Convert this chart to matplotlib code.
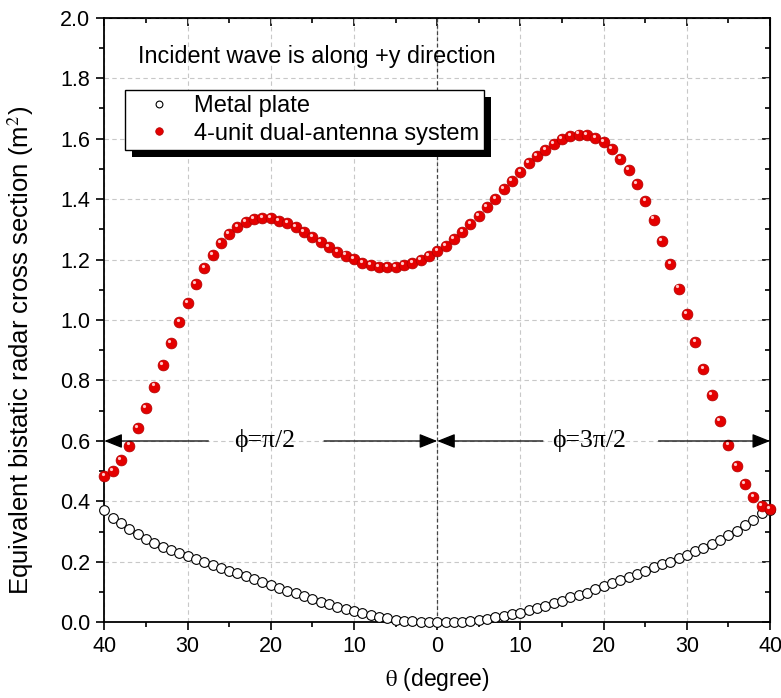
import numpy as np
import matplotlib
matplotlib.use('Agg')
import matplotlib.pyplot as plt
import matplotlib.transforms as mtransforms
from matplotlib.patches import Rectangle

plt.rcParams['font.family'] = ['Liberation Sans', 'DejaVu Sans']
plt.rcParams['mathtext.fontset'] = 'stix'

# scattering angle, degree (left half is phi=pi/2, right half phi=3pi/2)
theta = np.arange(-40, 41)

metal_plate = [
    0.372, 0.347, 0.328, 0.309, 0.293, 0.277, 0.264, 0.251, 0.240, 0.229,
    0.220, 0.209, 0.200, 0.190, 0.180, 0.171, 0.163, 0.154, 0.144, 0.134,
    0.124, 0.115, 0.105, 0.096, 0.088, 0.078, 0.069, 0.061, 0.052, 0.045,
    0.038, 0.030, 0.024, 0.018, 0.014, 0.009, 0.006, 0.004, 0.002, 0.001,
    0.000,
    0.000, 0.001, 0.003, 0.005, 0.008, 0.012, 0.017, 0.021, 0.027, 0.032,
    0.041, 0.047, 0.056, 0.063, 0.072, 0.083, 0.090, 0.099, 0.110, 0.121,
    0.129, 0.140, 0.149, 0.160, 0.171, 0.182, 0.192, 0.201, 0.212, 0.223,
    0.236, 0.246, 0.260, 0.273, 0.289, 0.304, 0.322, 0.339, 0.361, 0.372,
]

dual_antenna = [
    0.484, 0.502, 0.537, 0.585, 0.644, 0.708, 0.780, 0.851, 0.923, 0.992,
    1.057, 1.118, 1.171, 1.215, 1.254, 1.284, 1.308, 1.325, 1.334, 1.338,
    1.336, 1.328, 1.320, 1.306, 1.292, 1.275, 1.259, 1.242, 1.226, 1.213,
    1.201, 1.189, 1.182, 1.176, 1.175, 1.176, 1.181, 1.187, 1.198, 1.212,
    1.229,
    1.246, 1.269, 1.292, 1.317, 1.344, 1.373, 1.401, 1.432, 1.460, 1.489,
    1.518, 1.542, 1.562, 1.582, 1.597, 1.608, 1.613, 1.612, 1.603, 1.587,
    1.564, 1.533, 1.496, 1.449, 1.394, 1.332, 1.262, 1.185, 1.104, 1.019,
    0.928, 0.839, 0.751, 0.667, 0.587, 0.517, 0.459, 0.414, 0.386, 0.375,
]

xticks = [-40, -30, -20, -10, 0, 10, 20, 30, 40]
xticklabels = ['40', '30', '20', '10', '0', '10', '20', '30', '40']
yticks = [0.0, 0.2, 0.4, 0.6, 0.8, 1.0, 1.2, 1.4, 1.6, 1.8, 2.0]

fig = plt.figure(figsize=(7.81, 6.98), dpi=100)
ax = fig.add_axes([0.1336, 0.1082, 0.8524, 0.8667])

ax.plot(theta, metal_plate, 'o', ls='none', mfc='white', mec='black', mew=0.8,
        ms=7, label='Metal plate', zorder=3, clip_on=False)
ax.plot(theta, dual_antenna, 'o', ls='none', mfc='#e40000', mec='#b00000', mew=0.5,
        ms=7.8, label='4-unit dual-antenna system', zorder=4, clip_on=False)
# small highlight to give the balls a shiny look
hl = mtransforms.offset_copy(ax.transData, fig=fig, x=-1.2, y=1.5, units='points')
ax.plot(theta, dual_antenna, 'o', ls='none', mfc='#ffc8c8', mec='none', ms=2.3,
        transform=hl, zorder=5, clip_on=False)

ax.set_xlim(-40, 40)
ax.set_ylim(0, 2.0)
ax.set_xticks(xticks)
ax.set_xticklabels(xticklabels)
ax.set_xticks(np.arange(-35, 40, 10), minor=True)
ax.set_yticks(yticks)
ax.set_yticklabels([f'{v:.1f}' for v in yticks])
ax.set_yticks(np.arange(0.1, 2.0, 0.2), minor=True)
ax.tick_params(which='both', direction='out', labelsize=15.5, width=1.2, pad=4)
ax.tick_params(which='major', length=6)
ax.tick_params(which='minor', length=3.5)
for s in ax.spines.values():
    s.set_linewidth(1.3)

# mirrored inward ticks on top and right
top = ax.secondary_xaxis('top')
top.set_xticks(xticks)
top.set_xticks(np.arange(-35, 40, 10), minor=True)
top.tick_params(which='both', direction='in', labeltop=False, width=1.2)
top.tick_params(which='major', length=6)
top.tick_params(which='minor', length=3.5)
right = ax.secondary_yaxis('right')
right.set_yticks(yticks)
right.set_yticks(np.arange(0.1, 2.0, 0.2), minor=True)
right.tick_params(which='both', direction='in', labelright=False, width=1.2)
right.tick_params(which='major', length=6)
right.tick_params(which='minor', length=3.5)

ax.grid(True, color='#c8c8c8', ls=(0, (4, 3)), lw=0.8)
ax.set_axisbelow(True)
ax.axvline(0, color='#444444', ls=(0, (3, 2)), lw=0.9, zorder=1)

ax.set_xlabel(r'$\mathrm{\theta}$ (degree)', fontsize=16.5, labelpad=6)
ax.set_ylabel('Equivalent bistatic radar cross section (m$^2$)', fontsize=18.5)
ax.yaxis.set_label_coords(-0.103, 0.45)

ax.text(-36.0, 1.87, 'Incident wave is along +y direction', fontsize=16.8, va='center')

# phi ranges
arrow = dict(arrowstyle='-|>,head_length=0.55,head_width=0.22', color='black',
             lw=0.9, shrinkA=0, shrinkB=0, mutation_scale=20)
for x0, x1 in [(-27.5, -40), (-13.6, 0), (12.7, 0), (26.6, 40)]:
    ax.annotate('', xy=(x1, 0.6), xytext=(x0, 0.6), arrowprops=arrow,
                annotation_clip=False, zorder=6)
ax.text(-20.7, 0.6, 'ϕ=π/2', fontsize=18.5, family=['Liberation Serif', 'DejaVu Serif'],
        ha='center', va='center')
ax.text(18.2, 0.6, 'ϕ=3π/2', fontsize=18.5, family=['Liberation Serif', 'DejaVu Serif'],
        ha='center', va='center')

leg = ax.legend(loc='upper left', bbox_to_anchor=(0.031, 0.880), borderaxespad=0,
                fontsize=17, frameon=True, fancybox=False, edgecolor='black',
                framealpha=1, borderpad=0.22, labelspacing=0.22, handlelength=2.4,
                handletextpad=0.3, markerscale=0.7)
leg.get_frame().set_linewidth(1.0)

# black offset shadow behind the legend box
fig.canvas.draw()
bb = leg.get_window_extent().transformed(ax.transAxes.inverted())
dx = 7 / (ax.bbox.width)
dy = 7 / (ax.bbox.height)
ax.add_patch(Rectangle((bb.x0 + dx, bb.y0 - dy), bb.width, bb.height,
                       transform=ax.transAxes, facecolor='black', edgecolor='none',
                       zorder=leg.get_zorder() - 0.1, clip_on=False))

fig.savefig('out.png', dpi=100)
